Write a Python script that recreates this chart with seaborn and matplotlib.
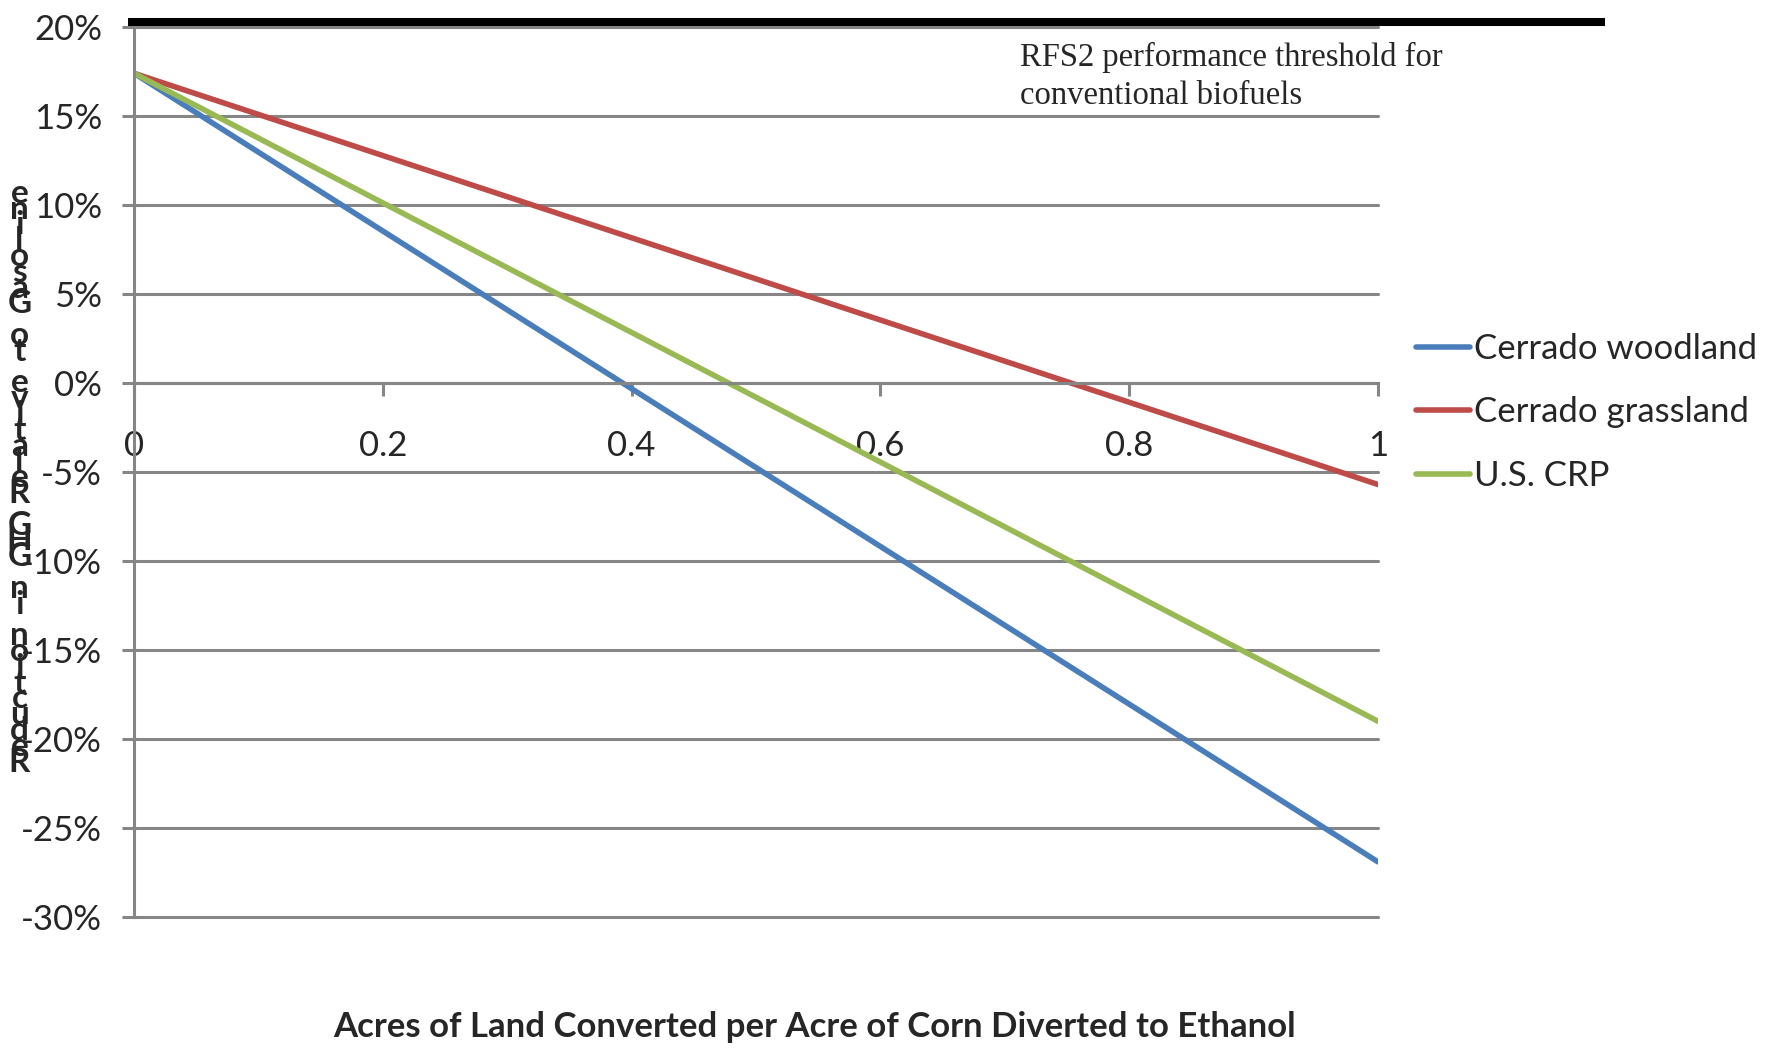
import pandas as pd
import seaborn as sns
import matplotlib.pyplot as plt
from matplotlib.ticker import PercentFormatter

# Data
acres = [0, 1]
woodland = [0.174, -0.269]
grassland = [0.174, -0.057]
crp = [0.174, -0.190]

series_names = ["Cerrado woodland", "Cerrado grassland", "U.S. CRP"]
series_colors = ["#4A7EBB", "#BE4B48", "#98B954"]

x_ticks = [0, 0.2, 0.4, 0.6, 0.8, 1]
y_ticks = [-0.30, -0.25, -0.20, -0.15, -0.10, -0.05, 0, 0.05, 0.10, 0.15, 0.20]

threshold = 0.2028
threshold_text = "RFS2 performance threshold for\nconventional biofuels"
x_label = "Acres of Land Converted per Acre of Corn Diverted to Ethanol"
y_label = "Reduction in GHG Relative to Gasoline"

df = pd.DataFrame({
    "acres": acres * 3,
    "reduction": woodland + grassland + crp,
    "series": [s for s in series_names for _ in acres],
})

# ==========================
# Style
# ==========================
sns.set_style("white")
plt.rcParams["font.family"] = ["Lato", "DejaVu Sans"]
plt.rcParams["axes.unicode_minus"] = False

grid_color = "#868686"

fig = plt.figure(figsize=(17.78, 10.52), dpi=100)
ax = fig.add_axes([0.0754, 0.1283, 0.6996, 0.846])

sns.lineplot(
    data=df,
    x="acres",
    y="reduction",
    hue="series",
    hue_order=series_names,
    palette=series_colors,
    linewidth=4,
    ax=ax,
    legend=False,
)

ax.set_xlim(0, 1)
ax.set_ylim(-0.30, 0.20)
ax.set_xticks(x_ticks)
ax.set_xticklabels(["0", "0.2", "0.4", "0.6", "0.8", "1"])
ax.set_yticks(y_ticks)
ax.yaxis.set_major_formatter(PercentFormatter(1.0, decimals=0))

# gridlines + axis crossing at zero
ax.yaxis.grid(True, color=grid_color, linewidth=2.2)
for gl in ax.yaxis.get_gridlines():
    gl.set_clip_on(False)
ax.set_axisbelow(True)

for side in ["top", "right"]:
    ax.spines[side].set_visible(False)
ax.spines["bottom"].set_position(("data", 0))
ax.spines["bottom"].set_color(grid_color)
ax.spines["bottom"].set_linewidth(2.2)
ax.spines["left"].set_color(grid_color)
ax.spines["left"].set_linewidth(2.2)

ax.tick_params(axis="y", direction="out", length=9, width=2.2, color=grid_color,
               labelsize=25, pad=14, left=True)
ax.tick_params(axis="x", direction="out", length=9, width=2.2, color=grid_color,
               labelsize=25, pad=25, bottom=True)

ax.set_xlabel("")
ax.set_ylabel("")

# threshold line
ax.plot([-0.005, 1.1825], [threshold, threshold], color="black",
        linewidth=5.8, clip_on=False, solid_capstyle="butt", zorder=5)
ax.text(0.712, 0.1915, threshold_text, fontsize=23.5,
        family=["Liberation Serif", "DejaVu Serif"], va="top", ha="left",
        linespacing=1.3)

# legend
handles = [plt.Line2D([], [], color=c, linewidth=4) for c in series_colors]
fig.legend(
    handles,
    series_names,
    loc="upper left",
    bbox_to_anchor=(0.779, 0.713),
    frameon=False,
    fontsize=25,
    handlelength=1.55,
    handletextpad=0.1,
    labelspacing=0.9,
)

# x label
fig.text(0.458, 0.024, x_label, fontsize=25, fontweight="bold",
         ha="center", va="center")

# stacked y label
fig.text(0.011, 0.546, "\n".join(reversed(y_label)), fontsize=24,
         fontweight="bold", ha="center", va="center", linespacing=0.45)

plt.savefig("out.png", dpi=100)
plt.close()
